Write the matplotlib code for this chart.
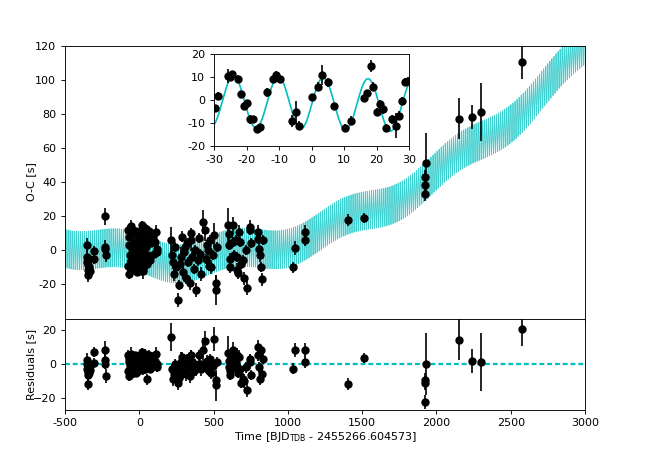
import numpy as np
import matplotlib
matplotlib.use("Agg")
import matplotlib.pyplot as plt

plt.rcParams['axes.unicode_minus'] = False
plt.rcParams['font.size'] = 8
plt.rcParams['axes.linewidth'] = 0.65
plt.rcParams['xtick.major.width'] = 0.65
plt.rcParams['ytick.major.width'] = 0.65
plt.rcParams['xtick.major.size'] = 2.85
plt.rcParams['ytick.major.size'] = 2.85

# ---------------- data ----------------
# early epochs
t_early = [-352, -350, -349, -347, -345, -343, -341, -337, -333, -306, -302, -232, -230, -228, -226]
oc_early = [2.9, -3.9, -6.8, -11.7, -14.6, -8.5, -5.0, -10.0, -12.0, -0.4, -5.2, 19.8, 1.9, 0.6, -2.9]
res_early = [2.2, 0.2, -2.7, -6.6, -11.4, -4.7, -1.5, -5.0, -3.5, 7.0, 0.6, 8.4, 2.6, -0.2, -7.2]
err_early = [4, 4, 3, 4, 4, 3, 3, 4, 3, 3, 3, 5, 4, 3, 4]

# dense campaign inside inset window
t_inset = [-29.7, -28.7, -25.6, -25.0, -24.6, -22.7, -21.8, -20.8, -19.8, -18.9, -17.9, -16.9, -15.9,
           -13.8, -11.8, -10.8, -9.8, -5.9, -4.9, -3.9, 0.2, 2.0, 3.1, 5.1, 6.9, 10.2, 12.0,
           16.1, 17.1, 18.2, 18.9, 20.2, 21.0, 22.0, 23.0, 24.9, 26.1, 26.9, 27.8, 28.9, 29.7]
oc_inset = [-3.6, 1.9, 10.5, 10.2, 11.2, 9.3, 2.6, -2.5, -1.5, -8.4, -8.4, -12.7, -11.9,
            3.3, 9.1, 10.9, 9.1, -9.2, -5.4, -11.2, 1.2, 5.8, 10.9, 7.7, -2.6, -12.1, -9.0,
            0.7, 2.9, 14.8, 5.8, -5.1, -1.9, -4.1, -12.1, -8.4, -11.2, -6.8, -0.3, 8.0, 8.4]
res_inset = [5, 3, 0, 1, -1, 1, -2, -5, -2, -3, -2, -1, 0,
             4, 1, 1, 2, -4, 2, -2, 1, 0, 2, 3, -1, -1, -2,
             0, -1, 7, -1, -3, 2, 1, -2, 1, -1, 2, 0, 2, -2]
err_inset = [1.5, 1.5, 3, 1.5, 1.5, 1.5, 1.5, 1.5, 1.5, 2, 1.5, 1.5, 1.5,
             2, 1.5, 1.5, 1.5, 2.5, 5, 2, 1.5, 2, 4.5, 2, 1.5, 1.5, 2,
             1.5, 1.5, 2.5, 2, 1.5, 2, 2, 1.5, 2, 5.5, 2, 1.5, 1.5, 1.5]

# dense campaign outside inset window
t_camp = [-78, -75, -72, -70, -66, -62, -58, -54, -50, -46, -42, -38, -34,
          32, 36, 40, 45, 50, 56, 62, 68, 75, 82, 90, 98, 106, 112, 116, 120]
oc_camp = [12, -9, 3, -14, 8, -3, 14, -6, 1, 10, -11, 5, -2,
           9, -5, 13, 2, -8, 6, -3, 11, -6, 4, 8, -2, 5, 10.7, 1, -1]
res_camp = [5, -4, 1, -7, 3, -1, 6, -3, 0, 4, -5, 2, -1,
            4, -3, 6, 1, -9, 3, -2, 5, -3, 2, 4, -1, 2, 6, -1.7, 0]
err_camp = [3, 3, 2, 3, 2, 3, 4, 2, 2, 3, 3, 2, 2,
            2, 3, 3, 2, 3, 2, 2, 3, 2, 2, 3, 2, 2, 4, 3, 2]

# second season
t_mid = [216, 222, 227, 235, 242, 250, 260, 267, 275, 283, 290, 294, 300, 305, 312, 320, 330, 339, 345, 350,
         358, 366, 375, 384, 392, 400, 410, 418, 429, 440, 448, 455, 463, 470, 478, 485, 495, 505, 514, 519, 524]
oc_mid = [5.8, -3, -6.8, -14, 2, -10, -29.2, -20.4, -8, -3.9, 8, -12.6, -1, 2, -16, 4, -7, -19.4, 10, 5.8,
          -4, -11, 0, -23.3, -6, 7, -2, -14, 16.5, 11.7, -5, 3, 0, -9, 6, -9.7, -3, 9, -19.4, -23.3, 2]
res_mid = [15.7, -3, -9, -6, 0, -4, -11, -8, -2, 1, 4, -5, -1, 2, -6, 3, -2, -7, 5, 2,
           -1, -4, 0, -3, -2, 5, 0, -3, 8, 13.4, -2, 2, 0, -4, 3, -5, -1, 14.8, -9.5, -12.4, 1]
err_mid = [8, 3, 4, 4, 3, 4, 4, 3, 3, 6, 3, 4, 3, 3, 4, 3, 3, 4, 3, 6,
           3, 3, 3, 4, 3, 3, 3, 4, 7, 6, 3, 3, 4, 3, 3, 4, 3, 7, 5, 9, 3]

# third season
t_late = [598, 602, 605, 608, 612, 628, 632, 636, 652, 656, 660, 664, 674, 678, 682, 698, 702, 718, 726,
          742, 746, 750, 798, 802, 806, 812, 818, 826, 834]
oc_late = [14.6, 9.7, 2.9, -4.9, -10.1, 14.6, 4.9, -2.9, 5.8, -3.9, -11.7, -13.6, 10.7, 4.9, -7.8, -5.8, -16.5, 0, -22.3,
           13.6, 11.7, 4.3, 10.7, 6.8, 1, -2.9, -9.7, -17.1, 6.2]
res_late = [6.4, 2, -2, -6.6, -4, 8, 3, -1, 1, -3, 5.5, -5, 4, -3, -11, -8.5, -10, -2, -15.3,
            1, 3, -6.6, 9.9, 5, -2, -8.5, 8, -6, 3]
err_late = [10, 4, 3, 3, 3, 5, 3, 3, 3, 3, 4, 3, 4, 3, 3, 3, 4, 3, 4,
            4, 3, 3, 4, 3, 3, 4, 3, 4, 3]

# sparse later epochs
t_sparse = [1032, 1047, 1115, 1118, 1402, 1512, 1920, 1922, 1924, 1927, 2155, 2240, 2298, 2577]
oc_sparse = [-10.1, 1.4, 10.7, 5.8, 17.5, 18.9, 38.5, 42.8, 33.0, 50.9, 77.2, 78.3, 81.0, 110.2]
res_sparse = [-2.7, 8.0, 8.0, 1.2, -11.8, 3.5, -9.5, -11.0, -22.2, 0.2, 14.2, 1.6, 1.0, 20.2]
err_sparse = [3, 4, 4, 3.5, 3.5, 3, 4, 4, 4, 18, 12, 7, 17, 10]

# model parameters (short + long-term timing variation)
amp_short, per_short, tpeak_short = 11.25, 13.8, 3.6
q0, q2, tq = -4.5, 1.62e-5, 250.0
amp_long, per_long, t0_long = 3.5, 750.0, 450.0


def model(t):
    t = np.asarray(t, dtype=float)
    return (q0 + q2 * (t - tq) ** 2
            + amp_long * np.sin(2 * np.pi * (t - t0_long) / per_long)
            + amp_short * np.cos(2 * np.pi * (t - tpeak_short) / per_short))


t_all = t_early + t_inset + t_camp + t_mid + t_late + t_sparse
oc_all = oc_early + oc_inset + oc_camp + oc_mid + oc_late + oc_sparse
res_all = res_early + res_inset + res_camp + res_mid + res_late + res_sparse
err_all = err_early + err_inset + err_camp + err_mid + err_late + err_sparse

CYAN = '#00BFBF'
EB = dict(fmt='o', color='k', ms=5, lw=1.2, zorder=3)

fig = plt.figure(figsize=(6.5, 4.55), dpi=100)
gs = fig.add_gridspec(2, 1, height_ratios=[3, 1], hspace=0,
                      left=0.1, right=0.9, top=0.9, bottom=0.1)
ax = fig.add_subplot(gs[0])
axr = fig.add_subplot(gs[1], sharex=ax)

tm = np.arange(-500, 3000.25, 0.5)
ax.plot(tm, model(tm), color=CYAN, lw=0.6, alpha=0.75, zorder=1)
ax.errorbar(t_all, oc_all, yerr=err_all, **EB)
ax.set_ylim(-40, 120)
ax.set_xlim(-500, 3000)
ax.set_yticks([-20, 0, 20, 40, 60, 80, 100, 120])
ax.set_ylabel('O-C [s]')
ax.tick_params(labelbottom=False)

axr.errorbar(t_all, res_all, yerr=err_all, **EB)
axr.axhline(0, color=CYAN, lw=1.6, ls=(0, (2.2, 1.3)), zorder=1)
axr.set_ylim(-26.5, 26.5)
axr.set_yticks([-20, 0, 20])
axr.set_yticklabels(['\u221220', '0', '20'])
axr.set_xticks([-500, 0, 500, 1000, 1500, 2000, 2500, 3000])
axr.set_ylabel('Residuals [s]')
axr.set_xlabel(r'Time [BJD$_{\rm TDB}$ - 2455266.604573]', labelpad=1)

ax.yaxis.set_label_coords(-0.055, 0.5)
axr.yaxis.set_label_coords(-0.055, 0.5)

# inset
axi = fig.add_axes([214 / 650, 1 - 146 / 455, 195 / 650, 92 / 455])
ti = np.linspace(-30, 30, 600)
axi.plot(ti, model(ti), color=CYAN, lw=1.2, zorder=1)
axi.errorbar(t_all, oc_all, yerr=err_all, **EB)
axi.set_xlim(-30, 30)
axi.set_ylim(-20, 20)
axi.set_xticks([-30, -20, -10, 0, 10, 20, 30])
axi.set_yticks([-20, -10, 0, 10, 20])

fig.savefig('out.png', dpi=100)
